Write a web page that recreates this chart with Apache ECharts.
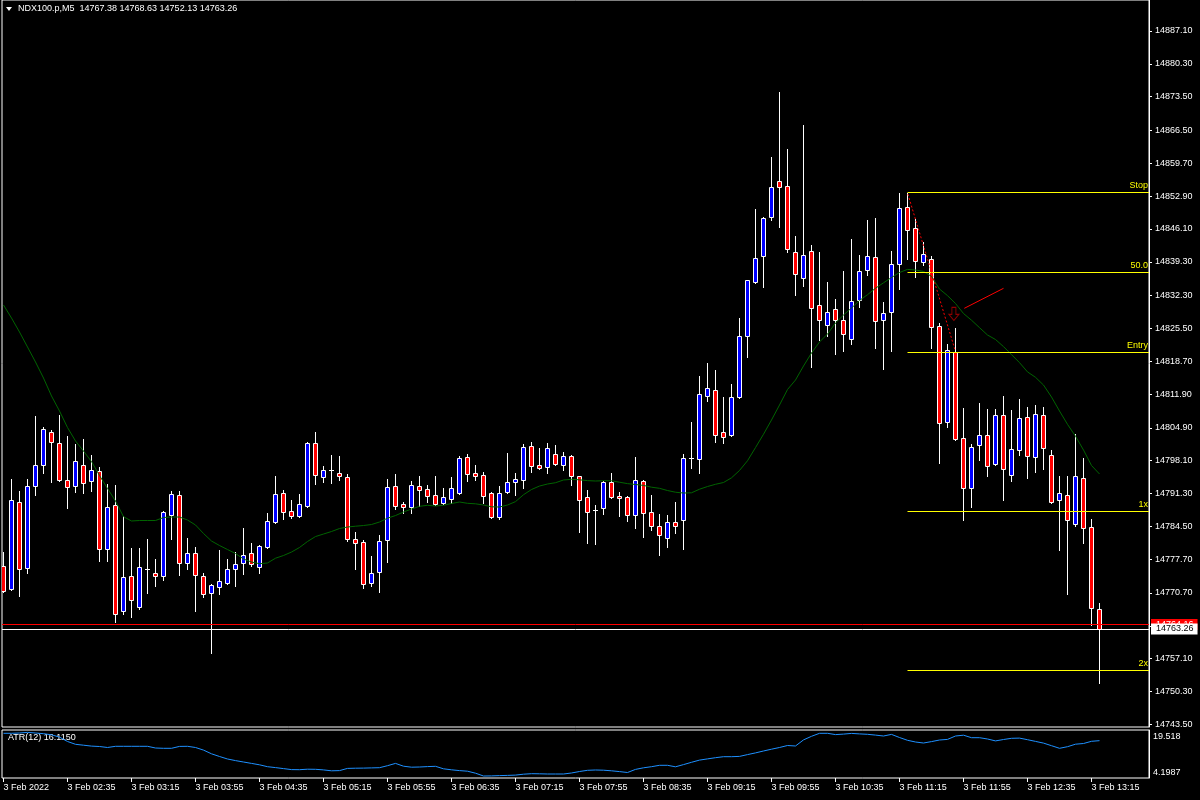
<!DOCTYPE html>
<html><head><meta charset="utf-8">
<script src="https://cdn.jsdelivr.net/npm/echarts@6/dist/echarts.min.js"></script>
<style>html,body{margin:0;padding:0;background:#000;overflow:hidden}#c{width:1200px;height:800px}</style>
</head><body><div id="c"></div>
<script>
const opens=[14776.28,14771.52,14789.48,14775.93,14792.92,14797.27,14803.98,14801.70,14794.03,14792.92,
14797.14,14793.95,14795.90,14779.74,14788.86,14766.90,14774.15,14767.86,14775.72,14774.77,
14774.28,14786.91,14790.93,14776.97,14778.92,14774.21,14770.75,14772.00,14772.83,14775.72,
14776.84,14778.92,14776.01,14780.22,14785.34,14791.34,14787.61,14786.70,14788.77,14801.70,
14794.66,14796.11,14795.55,14794.66,14781.88,14781.19,14772.83,14775.10,14781.61,14792.79,
14789.06,14788.44,14792.79,14792.30,14790.93,14789.27,14790.10,14791.34,14798.80,14795.55,
14795.07,14791.34,14786.37,14791.55,14793.62,14794.03,14801.08,14797.14,14796.73,14799.42,
14797.14,14799.01,14794.86,14790.51,14787.82,14788.24,14793.62,14790.72,14790.51,14786.79,
14793.83,14787.41,14784.51,14782.02,14785.34,14785.75,14798.65,14798.39,14811.56,14812.68,
14803.98,14803.36,14811.23,14823.86,14835.05,14840.43,14848.51,14855.97,14854.93,14841.26,
14835.88,14841.47,14830.28,14826.14,14829.45,14827.18,14823.24,14831.32,14837.53,14840.23,
14827.18,14828.83,14838.78,14850.58,14846.23,14839.19,14839.81,14825.93,14806.05,14820.55,
14802.73,14792.38,14801.28,14803.36,14797.35,14807.50,14795.07,14800.25,14807.08,14798.80,
14807.50,14799.21,14789.89,14790.93,14784.92,14794.45,14784.30,14767.38];
const highs=[14779.12,14794.30,14791.82,14794.30,14807.35,14805.08,14804.45,14807.56,14803.21,14801.55,
14802.59,14799.21,14796.73,14793.21,14793.00,14786.64,14779.95,14779.95,14781.81,14777.67,
14787.74,14791.82,14791.82,14782.08,14780.22,14774.77,14772.56,14779.60,14777.73,14779.12,
14784.16,14781.05,14780.63,14787.20,14794.93,14792.03,14789.95,14791.20,14801.91,14804.04,
14797.00,14799.34,14799.07,14795.28,14783.33,14781.67,14778.36,14782.71,14794.30,14795.34,
14789.54,14793.83,14794.93,14793.06,14794.93,14792.44,14794.72,14799.07,14799.48,14797.20,
14795.69,14791.61,14792.85,14799.63,14795.55,14801.55,14801.91,14800.66,14801.70,14801.28,
14799.83,14799.20,14795.00,14791.96,14788.86,14793.80,14795.49,14791.55,14790.72,14798.80,
14794.00,14790.93,14786.99,14786.85,14789.54,14799.48,14806.11,14815.64,14818.33,14816.88,
14811.29,14813.98,14827.65,14835.60,14850.17,14848.51,14860.94,14874.40,14862.60,14844.57,
14867.57,14842.71,14841.26,14835.05,14831.59,14837.39,14843.95,14840.64,14847.89,14848.30,
14830.90,14841.47,14853.48,14853.48,14848.10,14843.33,14840.43,14826.55,14822.20,14825.52,
14808.95,14801.49,14809.98,14808.74,14808.74,14811.43,14808.53,14810.81,14809.16,14809.57,
14809.16,14800.25,14794.86,14794.86,14803.56,14798.59,14785.96,14768.63];
const lows=[14770.90,14771.31,14770.13,14774.90,14791.05,14795.61,14793.75,14793.89,14788.36,14791.55,
14791.47,14791.88,14777.38,14777.38,14764.62,14766.28,14765.78,14767.44,14770.75,14772.20,
14773.45,14781.94,14774.48,14775.72,14767.03,14769.93,14758.33,14770.55,14772.63,14772.20,
14774.69,14776.35,14774.90,14780.07,14785.19,14786.02,14786.29,14786.50,14788.44,14793.21,
14793.75,14793.54,14794.10,14781.52,14775.72,14771.79,14772.20,14770.96,14777.17,14788.09,
14787.26,14787.20,14788.71,14789.60,14788.98,14789.13,14789.39,14791.20,14793.95,14794.16,
14789.27,14786.16,14786.08,14791.45,14790.93,14792.50,14795.69,14796.40,14795.61,14797.14,
14796.11,14793.00,14783.26,14780.99,14780.78,14786.99,14790.40,14786.58,14785.54,14784.09,
14782.23,14783.68,14778.50,14780.28,14783.06,14779.74,14796.65,14795.49,14810.52,14802.03,
14801.82,14803.15,14811.10,14819.64,14834.90,14834.14,14847.89,14846.44,14841.26,14832.35,
14834.22,14817.44,14823.03,14823.86,14820.26,14820.88,14822.33,14829.87,14836.50,14821.50,
14817.15,14820.88,14833.60,14839.94,14836.21,14838.57,14821.50,14797.68,14805.14,14802.32,
14785.81,14788.44,14798.18,14794.86,14797.20,14789.89,14793.83,14799.21,14794.45,14795.69,
14796.31,14789.40,14779.54,14770.42,14784.51,14780.99,14764.00,14752.13];
const closes=[14771.17,14789.89,14775.72,14792.79,14797.14,14804.60,14802.03,14794.03,14792.71,14797.97,
14793.54,14796.11,14779.74,14788.44,14766.28,14773.94,14769.18,14776.01,14775.72,14774.15,
14787.41,14791.13,14776.97,14778.92,14774.36,14770.55,14772.29,14773.12,14775.60,14776.64,
14778.62,14776.70,14780.36,14785.54,14791.13,14787.53,14786.70,14789.06,14801.70,14795.19,
14796.11,14796.11,14794.86,14781.94,14780.99,14772.62,14774.77,14781.40,14792.58,14788.77,
14788.57,14793.00,14791.96,14790.72,14789.19,14790.51,14792.38,14798.59,14795.28,14794.86,
14790.72,14786.37,14791.34,14793.62,14794.24,14800.87,14796.93,14796.52,14800.63,14797.35,
14799.01,14794.86,14789.89,14787.41,14787.82,14793.62,14790.51,14790.31,14786.79,14794.03,
14787.20,14784.51,14782.64,14785.34,14784.51,14798.59,14798.65,14811.85,14813.09,14803.36,
14802.94,14811.23,14823.86,14835.46,14840.02,14848.30,14854.72,14854.72,14841.88,14836.70,
14840.64,14829.66,14827.18,14828.83,14827.18,14824.28,14831.11,14837.33,14840.43,14826.97,
14828.63,14838.78,14850.37,14845.82,14839.40,14840.85,14825.73,14805.84,14820.96,14802.53,
14792.38,14800.87,14803.36,14796.93,14807.50,14796.31,14800.46,14806.88,14799.01,14807.71,
14800.63,14789.48,14791.34,14785.75,14794.86,14784.09,14767.52,14763.26];
const maValues=[14830.35,14827.65,14824.75,14821.65,14818.54,14815.22,14811.50,14808.39,14804.97,14802.18,
14800.10,14797.93,14795.03,14792.34,14789.75,14786.50,14785.61,14785.71,14785.71,14785.71,
14786.33,14786.43,14786.43,14785.81,14784.78,14783.02,14781.46,14780.53,14779.70,14778.87,
14777.73,14777.11,14776.76,14776.91,14777.90,14778.46,14779.18,14780.12,14781.36,14782.39,
14782.91,14783.43,14784.05,14784.36,14784.53,14784.67,14784.88,14785.40,14786.19,14786.74,
14787.47,14788.09,14788.65,14788.86,14788.71,14788.86,14789.23,14789.54,14789.27,14789.17,
14788.92,14788.55,14788.50,14788.92,14789.62,14791.05,14792.13,14792.85,14793.27,14793.54,
14794.10,14794.24,14794.14,14793.97,14793.89,14793.95,14793.95,14793.64,14793.35,14793.17,
14792.98,14792.61,14792.38,14791.92,14791.57,14791.40,14791.45,14792.19,14792.75,14793.21,
14793.58,14794.55,14796.07,14798.09,14800.81,14803.58,14806.53,14809.63,14812.84,14814.81,
14817.71,14820.40,14822.68,14824.34,14826.62,14828.27,14829.72,14831.28,14832.48,14833.82,
14834.94,14836.04,14837.08,14837.72,14837.59,14837.30,14836.27,14833.66,14832.29,14830.66,
14828.58,14827.20,14825.66,14824.13,14823.20,14821.73,14820.07,14818.41,14816.49,14815.37,
14813.77,14811.29,14808.39,14805.63,14803.17,14800.31,14797.10,14795.34];
const atrValues=[18.465,18.465,18.561,18.752,18.561,18.337,17.986,17.252,15.848,14.954,
14.667,14.380,14.252,13.933,14.316,14.316,14.316,14.316,14.316,13.773,
13.678,13.678,14.284,14.316,13.933,13.103,11.922,11.061,10.263,9.752,
9.305,8.858,8.412,7.805,7.518,7.199,6.880,6.848,7.007,6.975,
6.784,6.497,6.561,7.263,7.326,7.358,7.422,7.486,8.124,8.858,
7.965,7.646,7.709,7.837,7.933,7.135,6.816,6.561,6.369,5.731,
4.837,4.869,4.965,5.029,5.124,5.412,5.571,5.539,5.475,5.475,
5.475,5.795,6.273,6.656,6.752,6.688,6.497,6.241,5.954,6.944,
7.454,7.805,8.252,8.252,7.773,8.475,9.209,9.912,10.295,10.678,
10.997,10.997,11.092,11.667,12.209,12.816,13.390,13.933,14.571,14.412,
16.358,17.507,18.465,18.465,18.050,18.209,18.433,18.273,18.146,17.890,
17.603,18.114,17.124,16.231,15.688,15.369,15.816,16.326,16.518,17.603,
17.858,17.061,17.061,16.646,16.039,16.486,16.869,16.933,16.422,15.880,
15.337,14.507,13.678,14.188,14.986,15.209,15.912,16.115];
const xTickIndex=[0,8,16,24,32,40,48,56,64,72,80,88,96,104,112,120,128,136];
const xTickLabels=['3 Feb 2022','3 Feb 02:35','3 Feb 03:15','3 Feb 03:55','3 Feb 04:35','3 Feb 05:15','3 Feb 05:55','3 Feb 06:35','3 Feb 07:15','3 Feb 07:55','3 Feb 08:35','3 Feb 09:15','3 Feb 09:55','3 Feb 10:35','3 Feb 11:15','3 Feb 11:55','3 Feb 12:35','3 Feb 13:15'];
const priceTicks=[14887.10,14880.30,14873.50,14866.50,14859.70,14852.90,14846.10,14839.30,14832.30,14825.50,14818.70,14811.90,14804.90,14798.10,14791.30,14784.50,14777.70,14770.70,14763.90,14757.10,14750.30,14743.50];
const atrTicks=[19.518,4.1987];
const levelNames=['Stop','50.0','Entry','1x','2x'];
const levelPrices=[14853.69,14837.12,14820.55,14787.61,14754.68];
const levelStart=113;
const bidPrice=14763.26, askPrice=14764.16;
const trendDotted=[[113.05,14853.3],[118.95,14821.0]];
const trendSolid=[[120.1,14829.66],[125.0,14833.80]];
const arrowPoint=[118.8,14828.5];
const headerText='NDX100.p,M5  14767.38 14768.63 14752.13 14763.26';
const atrText='ATR(12) 16.1150';

const X_MIN=-0.1875, X_MAX=143.1875;
const P_MAX=14893.52, P_MIN=14742.94;
const FONT='"Liberation Sans", Arial, sans-serif';

const candleData=opens.map((o,i)=>[i,o,closes[i],lows[i],highs[i]]);

const chart=echarts.init(document.getElementById('c'),null,{renderer:'canvas'});
chart.setOption({
  backgroundColor:'#000',
  animation:false,
  textStyle:{fontFamily:FONT},
  grid:[
    {left:2,top:0,width:1147,height:727,show:true,borderColor:'#fff',borderWidth:1,backgroundColor:'transparent'},
    {left:2,top:730,width:1147,height:48,show:true,borderColor:'#fff',borderWidth:1,backgroundColor:'transparent'}
  ],
  xAxis:[
    {gridIndex:0,type:'value',min:X_MIN,max:X_MAX,show:false,axisLine:{onZero:false}},
    {gridIndex:1,type:'value',min:X_MIN,max:X_MAX,
      axisLine:{show:false,onZero:false},splitLine:{show:false},
      axisTick:{show:true,customValues:xTickIndex,length:4,lineStyle:{color:'#fff'}},
      axisLabel:{customValues:xTickIndex,color:'#fff',fontSize:9,fontFamily:FONT,align:'left',margin:5,
        formatter:v=>{const i=xTickIndex.indexOf(Math.round(v));return i>=0?xTickLabels[i]:'';}}}
  ],
  yAxis:[
    {gridIndex:0,type:'value',position:'right',min:P_MIN,max:P_MAX,
      axisLine:{show:true,onZero:false,lineStyle:{color:'#fff'}},splitLine:{show:false},
      axisTick:{show:true,customValues:priceTicks,length:3,lineStyle:{color:'#fff'}},
      axisLabel:{customValues:priceTicks,color:'#fff',fontSize:9,fontFamily:FONT,margin:6,formatter:v=>v.toFixed(2)}},
    {gridIndex:1,type:'value',position:'right',min:4.1987,max:19.518,
      axisLine:{show:true,onZero:false,lineStyle:{color:'#fff'}},splitLine:{show:false},axisTick:{show:false},
      axisLabel:{customValues:atrTicks,color:'#fff',fontSize:9,fontFamily:FONT,margin:4,
        formatter:v=>v>10?'{t|'+v.toFixed(3)+'}':'{b|'+v.toFixed(4)+'}',
        rich:{t:{padding:[13,0,0,0],color:'#fff',fontSize:9,fontFamily:FONT},b:{padding:[0,0,11,0],color:'#fff',fontSize:9,fontFamily:FONT}}}}
  ],
  graphic:[
    {type:'polygon',shape:{points:[[6,7],[12,7],[9,11]]},style:{fill:'#fff'}},
    {type:'text',left:18,top:4,style:{text:headerText,fill:'#fff',font:'9px '+FONT}},
    {type:'text',left:8,top:733,style:{text:atrText,fill:'#fff',font:'9px '+FONT}}
  ],
  series:[
    {type:'custom',name:'candles',xAxisIndex:0,yAxisIndex:0,clip:true,z:3,
      data:candleData,encode:{x:0,y:[1,2,3,4]},
      renderItem:function(params,api){
        const k=api.value(0),o=api.value(1),c=api.value(2),l=api.value(3),h=api.value(4);
        const pO=api.coord([k,o]),pC=api.coord([k,c]),pH=api.coord([k,h]),pL=api.coord([k,l]);
        const cx=Math.floor(pO[0])+0.5;
        const yT=Math.round(Math.min(pO[1],pC[1]))+0.5, yB=Math.round(Math.max(pO[1],pC[1]))+0.5;
        const ch=[{type:'line',shape:{x1:cx,y1:Math.round(pH[1]),x2:cx,y2:Math.round(pL[1])+1},style:{stroke:'#fff',lineWidth:1}}];
        if(yB-yT<1){
          ch.push({type:'line',shape:{x1:cx-2.5,y1:yT,x2:cx+2.5,y2:yT},style:{stroke:'#fff',lineWidth:1}});
        } else {
          ch.push({type:'rect',shape:{x:cx-2,y:yT,width:4,height:yB-yT},style:{fill:c>o?'#0000ff':'#ff0000',stroke:'#fff',lineWidth:1}});
        }
        return {type:'group',children:ch};
      }},
    {type:'line',name:'MA',xAxisIndex:0,yAxisIndex:0,z:4,showSymbol:false,silent:true,
      data:maValues.map((v,i)=>[i,v]),lineStyle:{color:'#006400',width:1},
      markLine:{silent:true,symbol:['none','none'],animation:false,
        lineStyle:{color:'#ffff00',width:1,type:'solid'},
        label:{show:true,position:'insideEndTop',formatter:'{b}',color:'#ffff00',fontSize:9,fontFamily:FONT,distance:[1,2]},
        data:levelNames.map((n,i)=>[{name:n,coord:[levelStart,levelPrices[i]]},{coord:[X_MAX,levelPrices[i]]}])}},
    {type:'line',name:'trendDotted',xAxisIndex:0,yAxisIndex:0,z:5,showSymbol:false,silent:true,
      data:trendDotted,lineStyle:{color:'#ff0000',width:1,type:[2,2]}},
    {type:'line',name:'trendSolid',xAxisIndex:0,yAxisIndex:0,z:5,showSymbol:false,silent:true,
      data:trendSolid,lineStyle:{color:'#ff0000',width:1}},
    {type:'scatter',name:'arrow',xAxisIndex:0,yAxisIndex:0,z:6,silent:true,
      data:[arrowPoint],symbol:'path://M3,0 L7,0 L7,7 L10,7 L5,13 L0,7 L3,7 Z',symbolSize:[10,13],
      itemStyle:{color:'#000',borderColor:'#b00000',borderWidth:1}},
    {type:'line',name:'ask',xAxisIndex:0,yAxisIndex:0,z:7,data:[],
      markLine:{silent:true,symbol:['none','none'],animation:false,
        data:[{yAxis:askPrice}],lineStyle:{color:'#ff0000',width:1,type:'solid'},
        label:{show:true,position:'end',distance:2,formatter:askPrice.toFixed(2),color:'#fff',backgroundColor:'#ff0000',padding:[1,4,1,5],fontSize:9,fontFamily:FONT}}},
    {type:'line',name:'bid',xAxisIndex:0,yAxisIndex:0,z:8,data:[],
      markLine:{silent:true,symbol:['none','none'],animation:false,
        data:[{yAxis:bidPrice}],lineStyle:{color:'#ffffff',width:1,type:'solid'},
        label:{show:true,position:'end',distance:2,formatter:bidPrice.toFixed(2),color:'#000',backgroundColor:'#ffffff',padding:[1,4,1,5],fontSize:9,fontFamily:FONT}}},
    {type:'line',name:'ATR',xAxisIndex:1,yAxisIndex:1,showSymbol:false,silent:true,
      data:atrValues.map((v,i)=>[i,v]),lineStyle:{color:'#1e90ff',width:1}}
  ]
});
</script></body></html>
